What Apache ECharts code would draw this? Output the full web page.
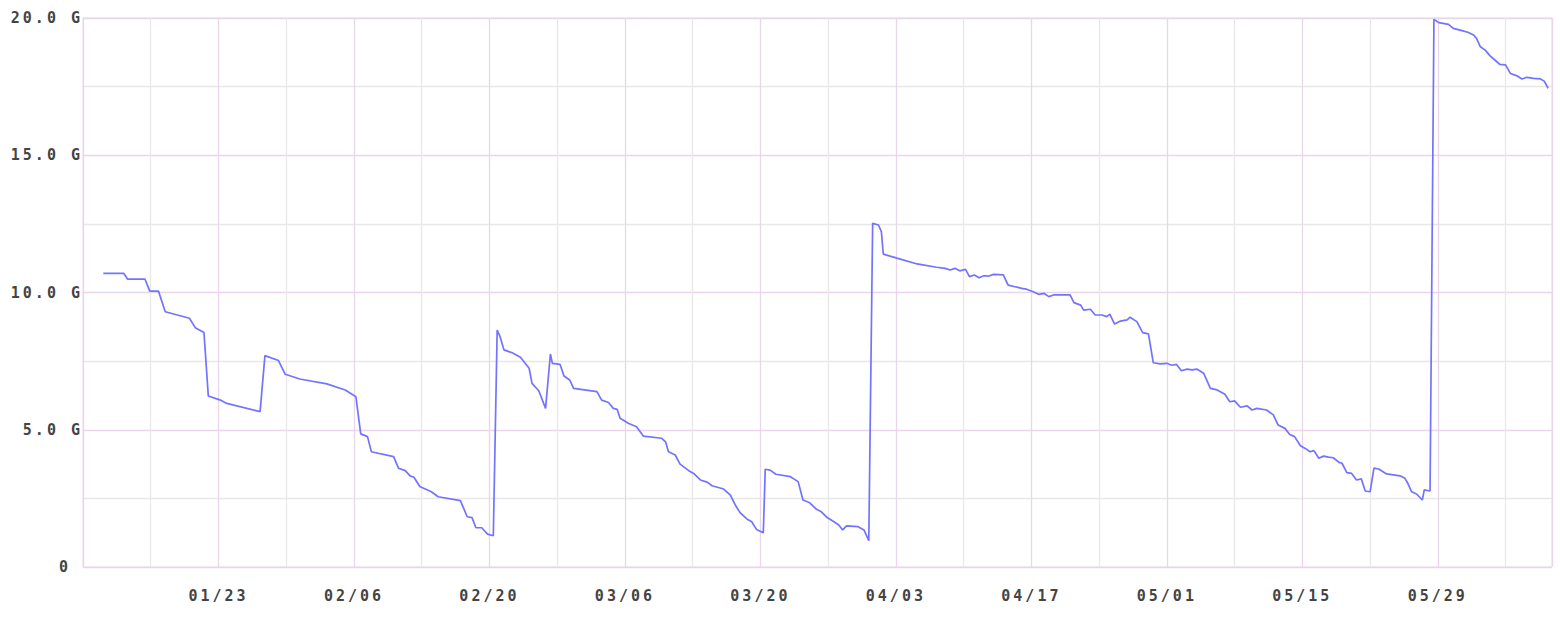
<!DOCTYPE html>
<html>
<head>
<meta charset="utf-8">
<script src="https://cdn.jsdelivr.net/npm/echarts@6/dist/echarts.min.js"></script>
<style>
html,body{margin:0;padding:0;background:#fff;}
#chart{width:1560px;height:618px;}
#chart text{letter-spacing:3px;}
</style>
</head>
<body>
<div id="chart"></div>
<script>
// Day offsets counted from 01/09 (0 = 01/09)
var dayOffsets = [
2.1,4.2,4.6,6.4,6.9,7.8,8.5,11.0,11.6,12.5,12.95,14.2,14.85,18.3,18.8,20.2,20.9,22.4,25.2,27.1,
28.2,28.7,29.4,29.8,32.1,32.6,33.3,33.8,34.2,34.8,36.0,36.7,39.0,39.7,40.2,40.6,41.2,41.8,42.4,42.8,
43.1,43.5,44.3,45.2,46.1,46.4,47.1,47.8,48.3,48.5,49.3,49.7,50.3,50.7,53.1,53.6,54.3,54.8,55.2,55.5,
56.4,57.2,57.9,59.8,60.2,60.5,61.2,61.7,62.6,63.1,63.8,64.5,65.0,66.2,66.9,67.4,67.9,68.6,69.1,69.6,
70.3,70.5,71.0,71.6,73.1,73.9,74.4,75.1,75.8,76.3,76.9,77.6,78.1,78.5,78.9,80.1,80.7,81.2,81.6,82.2,
82.5,82.7,84.1,86.2,88.2,89.1,89.6,90.1,90.6,91.2,91.6,92.1,92.6,93.1,93.6,94.1,95.1,95.6,96.3,97.0,
97.5,98.2,98.8,99.3,99.8,100.3,102.0,102.4,103.1,103.4,104.1,104.6,105.3,105.8,106.1,106.6,107.2,107.9,108.2,108.9,
109.5,110.1,110.6,111.3,112.0,112.5,113.0,113.5,114.1,114.6,115.1,115.8,116.5,117.2,118.0,118.5,119.0,119.6,120.3,120.8,
121.3,122.3,123.0,123.5,124.2,124.7,125.2,125.8,126.3,126.8,127.2,127.7,128.2,128.7,129.2,129.8,130.1,130.6,131.1,131.6,
132.1,132.5,133.0,133.4,133.9,134.7,136.1,136.6,136.9,137.3,137.8,138.4,138.6,139.2,139.6,140.1,141.1,141.6,142.3,143.1,
143.7,144.0,144.4,144.9,145.4,145.9,146.4,147.0,147.5,148.2,148.7,149.2,149.9,150.6,151.0,151.4
];
// Values in G
var usageGB = [
10.70,10.70,10.49,10.49,10.05,10.05,9.30,9.06,8.72,8.54,6.23,6.08,5.96,5.66,7.70,7.52,7.02,6.85,6.67,6.45,
6.20,4.85,4.75,4.20,4.02,3.60,3.51,3.32,3.27,2.93,2.74,2.56,2.42,1.83,1.80,1.43,1.43,1.20,1.14,8.63,
8.39,7.91,7.81,7.64,7.24,6.69,6.42,5.78,7.76,7.42,7.38,6.96,6.81,6.51,6.39,6.08,5.99,5.78,5.74,5.42,
5.23,5.11,4.77,4.69,4.56,4.20,4.08,3.75,3.51,3.41,3.17,3.09,2.96,2.84,2.62,2.26,1.98,1.75,1.65,1.37,
1.25,3.56,3.53,3.38,3.29,3.11,2.44,2.34,2.10,2.01,1.80,1.65,1.53,1.35,1.50,1.47,1.35,0.96,12.52,12.46,
12.22,11.40,11.25,11.04,10.92,10.88,10.82,10.88,10.79,10.84,10.58,10.64,10.54,10.61,10.60,10.66,10.64,10.27,10.21,10.15,
10.12,10.03,9.93,9.97,9.85,9.91,9.91,9.63,9.54,9.36,9.39,9.18,9.18,9.12,9.21,8.85,8.96,9.00,9.10,8.94,
8.54,8.49,7.44,7.40,7.42,7.35,7.38,7.15,7.21,7.18,7.21,7.06,6.51,6.45,6.29,6.02,6.05,5.82,5.87,5.72,
5.78,5.72,5.54,5.17,5.05,4.83,4.75,4.42,4.32,4.20,4.24,3.96,4.04,4.00,3.98,3.81,3.78,3.44,3.41,3.17,
3.21,2.77,2.74,3.60,3.57,3.39,3.32,3.23,3.05,2.74,2.66,2.44,2.81,2.77,19.95,19.83,19.77,19.62,19.56,19.48,
19.38,19.26,18.95,18.83,18.62,18.47,18.31,18.29,17.98,17.89,17.78,17.84,17.80,17.78,17.70,17.44
];
var xTickLabels = ['01/23','02/06','02/20','03/06','03/20','04/03','04/17','05/01','05/15','05/29'];
var yTickLabels = ['0','5.0 G','10.0 G','15.0 G','20.0 G'];

var seriesData = dayOffsets.map(function(d, i){ return [d, usageGB[i]]; });

var major = '#ead6ea';
var minor = '#e8e8e8';
var labelFont = {color: '#444444', fontFamily: 'DejaVu Sans Mono', fontSize: 15, fontWeight: 'bold'};
var chart = echarts.init(document.getElementById('chart'), null, {renderer:'svg'});
chart.setOption({
  animation: false,
  backgroundColor: '#ffffff',
  grid: {left: 83, top: 18, right: 8, bottom: 51, show: true, borderColor: major, borderWidth: 1, backgroundColor: 'transparent'},
  xAxis: {
    type: 'value', min: 0, max: 151.8, interval: 7,
    axisLine: {show: false}, axisTick: {show: false},
    splitLine: {show: true, lineStyle: {color: [major, minor], width: 1.3}},
    axisLabel: Object.assign({}, labelFont, {
      margin: 21,
      showMinLabel: false, showMaxLabel: false,
      formatter: function(v){
        if (v > 0 && v % 14 === 0) { return xTickLabels[v/14 - 1] || ''; }
        return '';
      }
    })
  },
  yAxis: {
    type: 'value', min: 0, max: 20, interval: 2.5,
    axisLine: {show: false}, axisTick: {show: false},
    splitLine: {show: true, lineStyle: {color: [major, minor], width: 1.3}},
    axisLabel: Object.assign({}, labelFont, {
      margin: 0,
      formatter: function(v){
        if (v === 0) { return '{z|' + yTickLabels[0] + '}'; }
        if (v % 5 === 0) { return yTickLabels[v/5] || ''; }
        return '';
      },
      rich: {
        z: {color: '#444444', fontFamily: 'DejaVu Sans Mono', fontSize: 15, fontWeight: 'bold', padding: [0, 12, 0, 0]}
      }
    })
  },
  series: [{
    type: 'line', data: seriesData, showSymbol: false, smooth: false,
    lineStyle: {color: '#7373ff', width: 1.7},
    itemStyle: {color: '#7373ff'}
  }]
});
</script>
</body>
</html>
